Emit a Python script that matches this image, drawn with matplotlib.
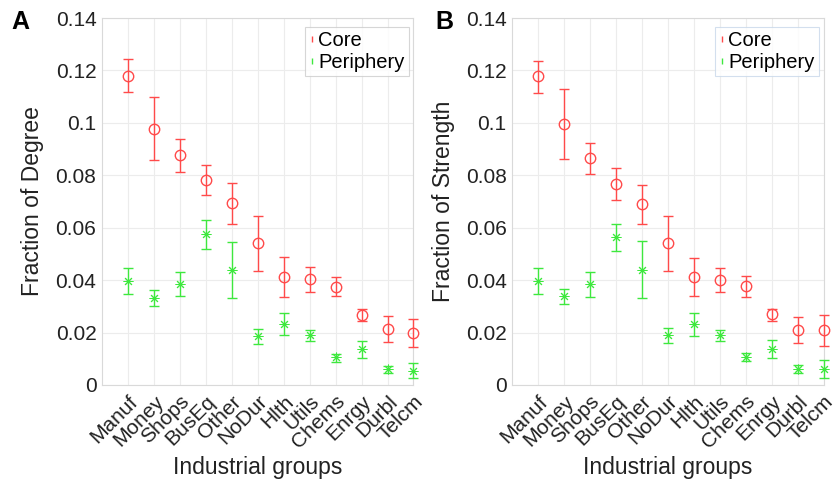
import numpy as np
import matplotlib.pyplot as plt

plt.rcParams['font.family'] = ['Liberation Sans', 'DejaVu Sans']

groups = ["Manuf", "Money", "Shops", "BusEq", "Other", "NoDur",
          "Hlth", "Utils", "Chems", "Enrgy", "Durbl", "Telcm"]

# panel A: fraction of degree
deg_core = [0.1180, 0.0978, 0.0876, 0.0782, 0.0694, 0.0540, 0.0413, 0.0403, 0.0375, 0.0266, 0.0215, 0.0199]
deg_core_lo = [0.1117, 0.0858, 0.0812, 0.0723, 0.0615, 0.0436, 0.0337, 0.0356, 0.0339, 0.0244, 0.0165, 0.0144]
deg_core_hi = [0.1244, 0.1099, 0.0939, 0.0840, 0.0771, 0.0644, 0.0487, 0.0449, 0.0411, 0.0289, 0.0265, 0.0253]
deg_peri = [0.0397, 0.0332, 0.0387, 0.0575, 0.0439, 0.0186, 0.0233, 0.0189, 0.0105, 0.0137, 0.0060, 0.0055]
deg_peri_lo = [0.0349, 0.0301, 0.0341, 0.0520, 0.0330, 0.0156, 0.0189, 0.0167, 0.0087, 0.0102, 0.0045, 0.0027]
deg_peri_hi = [0.0447, 0.0362, 0.0430, 0.0629, 0.0547, 0.0215, 0.0276, 0.0211, 0.0117, 0.0168, 0.0074, 0.0083]

# panel B: fraction of strength
str_core = [0.1177, 0.0996, 0.0865, 0.0768, 0.0690, 0.0540, 0.0413, 0.0401, 0.0377, 0.0269, 0.0211, 0.0209]
str_core_lo = [0.1114, 0.0862, 0.0806, 0.0707, 0.0614, 0.0435, 0.0341, 0.0355, 0.0337, 0.0246, 0.0162, 0.0148]
str_core_hi = [0.1237, 0.1130, 0.0925, 0.0827, 0.0764, 0.0644, 0.0486, 0.0445, 0.0414, 0.0290, 0.0258, 0.0267]
str_peri = [0.0397, 0.0338, 0.0385, 0.0564, 0.0439, 0.0189, 0.0232, 0.0190, 0.0107, 0.0137, 0.0062, 0.0062]
str_peri_lo = [0.0349, 0.0308, 0.0337, 0.0511, 0.0330, 0.0161, 0.0187, 0.0169, 0.0090, 0.0104, 0.0046, 0.0025]
str_peri_hi = [0.0445, 0.0366, 0.0432, 0.0615, 0.0550, 0.0218, 0.0276, 0.0211, 0.0122, 0.0170, 0.0077, 0.0097]

red = '#ff4a4a'
green = '#3ee83e'

fig = plt.figure(figsize=(8.34, 4.83), dpi=100)
axA = fig.add_axes([0.1223, 0.2029, 0.3735, 0.7598])
axB = fig.add_axes([0.614, 0.2029, 0.3735, 0.7598])


def draw(ax, core, clo, chi, peri, plo, phi, ylabel, letter, letter_x, legend_edge):
    x = np.arange(1, len(groups) + 1)
    core = np.array(core)
    peri = np.array(peri)
    ecore = [core - np.array(clo), np.array(chi) - core]
    eperi = [peri - np.array(plo), np.array(phi) - peri]
    ax.errorbar(x, core, yerr=ecore, fmt='o', color=red, mfc='none',
                ms=7.5, mew=1.0, elinewidth=1.0, capsize=3.5, capthick=1.0,
                clip_on=False, zorder=3)
    ax.errorbar(x, peri, yerr=eperi, fmt='none', ecolor=green,
                elinewidth=1.0, capsize=3.5, capthick=1.0,
                clip_on=False, zorder=3)
    ax.plot(x, peri, linestyle='none', marker=(8, 2, 0), color=green,
            ms=7, mew=0.7, clip_on=False, zorder=4)
    # legend handles: just small ticks
    hc, = ax.plot([], [], linestyle='none', marker='|', color=red, ms=5, label='Core')
    hp, = ax.plot([], [], linestyle='none', marker='|', color=green, ms=5, label='Periphery')
    leg = ax.legend(handles=[hc, hp], loc='upper right', fontsize=14.5,
                    handlelength=0.3, handletextpad=0.15, borderpad=0.2,
                    labelspacing=0.15, fancybox=False,
                    bbox_to_anchor=(0.985, 0.975), borderaxespad=0)
    leg.get_frame().set_edgecolor(legend_edge)
    leg.get_frame().set_linewidth(0.8)

    ax.set_xlim(0, 12)
    ax.set_ylim(0, 0.14)
    ax.set_xticks(x)
    ax.set_xticklabels(groups, rotation=45, ha='right', rotation_mode='anchor', fontsize=15)
    ax.set_yticks(np.arange(0, 0.141, 0.02))
    ax.set_yticklabels(['0', '0.02', '0.04', '0.06', '0.08', '0.1', '0.12', '0.14'], fontsize=15)
    ax.tick_params(axis='both', length=0, pad=4, colors='#222222')
    ax.tick_params(axis='x', pad=5)
    ax.grid(True, color='#ececec', linewidth=0.8)
    ax.set_axisbelow(True)
    for s in ax.spines.values():
        s.set_color('#d9d9d9')
        s.set_linewidth(0.8)
    ax.set_ylabel(ylabel, fontsize=16.5, color='#222222', labelpad=8)
    ax.set_xlabel('Industrial groups', fontsize=16.5, color='#222222', labelpad=3)
    ax.text(letter_x, 0.99, letter, transform=ax.transAxes, fontsize=18,
            fontweight='bold', va='center', ha='left')


draw(axA, deg_core, deg_core_lo, deg_core_hi, deg_peri, deg_peri_lo, deg_peri_hi,
     'Fraction of Degree', 'A', -0.29, '#cccccc')
draw(axB, str_core, str_core_lo, str_core_hi, str_peri, str_peri_lo, str_peri_hi,
     'Fraction of Strength', 'B', -0.245, '#c8d8ea')

fig.savefig('out.png', dpi=100)
